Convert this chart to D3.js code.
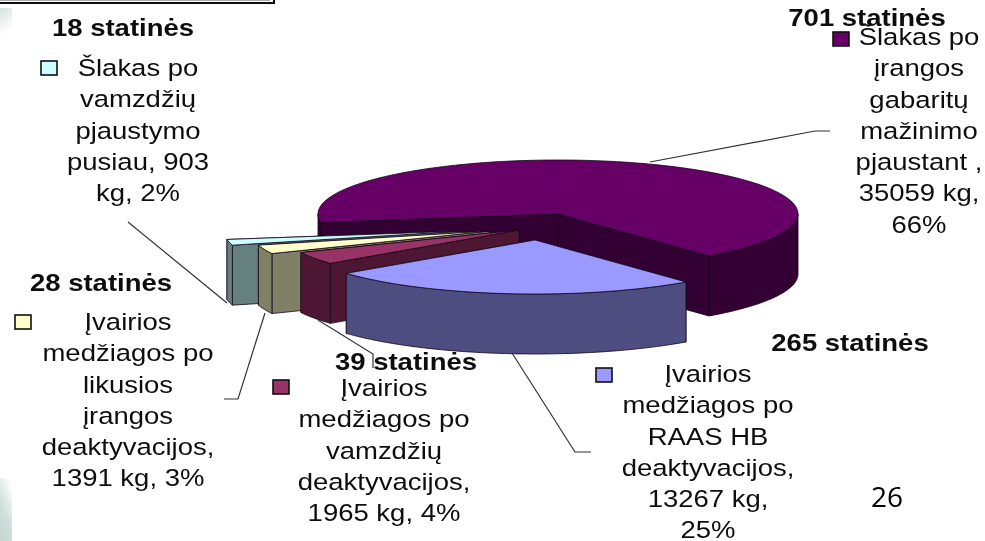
<!DOCTYPE html>
<html>
<head>
<meta charset="utf-8">
<script src="https://cdnjs.cloudflare.com/ajax/libs/d3/7.8.5/d3.min.js"></script>
<style>
  html, body { margin: 0; padding: 0; background: #fff; overflow: hidden; }
  text { font-family: "Liberation Sans", Arial, sans-serif; fill: #111; }
</style>
</head>
<body>
<div class="chart"></div>
<script>
// chart values
const sliceKg = [35059, 13267, 1965, 1391, 903];
const slicePct = [66, 25, 4, 3, 2];
const barrels = [701, 265, 39, 28, 18];
const sliceLabels = [
  ["Šlakas po", "įrangos", "gabaritų", "mažinimo", "pjaustant ,"],
  ["Įvairios", "medžiagos po", "RAAS HB", "deaktyvacijos,"],
  ["Įvairios", "medžiagos po", "vamzdžių", "deaktyvacijos,"],
  ["Įvairios", "medžiagos po", "likusios", "įrangos", "deaktyvacijos,"],
  ["Šlakas po", "vamzdžių", "pjaustymo"]
];
// how the value and percent wrap at the end of each label
const valueWrap = [
  d => [`${d.kg} kg,`, `${d.pct}%`],
  d => [`${d.kg} kg,`, `${d.pct}%`],
  d => [`${d.kg} kg, ${d.pct}%`],
  d => [`${d.kg} kg, ${d.pct}%`],
  d => [`pusiau, ${d.kg}`, `kg, ${d.pct}%`]
];

const w = 985;
const h = 541;

const topColors = ["#660066", "#9999ff", "#993366", "#ffffcc", "#ccffff"];
const sideColors = ["#330033", "#4d4d80", "#4d1933", "#808066", "#668080"];

// pie layout: ellipse centre, radii, depth, and how far each slice is pulled out
const cx = 558, cy = 214, rx = 240, ry = 54, depth = 60;
const pull = [[0, 0], [-23, 26], [-39, 16], [-68, 17], [-94, 17]];
// back to front, the small wedges run behind the big blue one
const drawOrder = [0, 4, 3, 2, 1];

// legend blocks, in slice order
const blocks = [
  { head: [867, 26], swatch: [833, 32], tx: 919, ty: 45 },
  { head: [850, 351], swatch: [596, 368], tx: 708, ty: 382 },
  { head: [406, 370], swatch: [273, 380], tx: 384, ty: 396 },
  { head: [101, 291], swatch: [15, 315], tx: 128, ty: 330 },
  { head: [123, 36], swatch: [41, 61], tx: 138, ty: 76 }
];
const leaders = [
  [[650, 162], [815, 131], [830, 131]],
  [[512, 353], [575, 452], [591, 452]],
  [[318, 320], [373, 354], [373, 368]],
  [[265, 313], [238, 399], [224, 399]],
  [[128, 222], [227, 303]]
];

const svg = d3.select(".chart").append("svg")
  .attr("width", w).attr("height", h).attr("viewBox", [0, 0, w, h]).style("display", "block");

const defs = svg.append("defs");
defs.append("filter").attr("id", "soft")
  .append("feGaussianBlur").attr("stdDeviation", 0.45);

const fade1 = defs.append("linearGradient").attr("id", "fadeTop")
  .attr("x1", 0).attr("y1", 0).attr("x2", 0.3).attr("y2", 1);
fade1.append("stop").attr("offset", 0).attr("stop-color", "#d5e3e0");
fade1.append("stop").attr("offset", 1).attr("stop-color", "#ffffff");
const fade2 = defs.append("linearGradient").attr("id", "fadeBottom")
  .attr("x1", 0.8).attr("y1", 0).attr("x2", 0.3).attr("y2", 1);
fade2.append("stop").attr("offset", 0).attr("stop-color", "#ffffff");
fade2.append("stop").attr("offset", 0.6).attr("stop-color", "#cfe0dc");
fade2.append("stop").attr("offset", 1).attr("stop-color", "#c4d9d4");

const root = svg.append("g").attr("filter", "url(#soft)");

// slide background bits at the left edge and the box cut off at the top
root.append("rect").attr("x", 0).attr("y", 8).attr("width", 12).attr("height", 27).attr("fill", "url(#fadeTop)");
root.append("rect").attr("x", 0).attr("y", 478).attr("width", 12).attr("height", 63).attr("fill", "url(#fadeBottom)");
root.append("rect").attr("x", -6).attr("y", -20).attr("width", 280).attr("height", 23)
  .attr("fill", "#fff").attr("stroke", "#111").attr("stroke-width", 2);
root.append("line").attr("x1", 0).attr("x2", 270).attr("y1", 0.5).attr("y2", 0.5).attr("stroke", "#aaa");

// unit circle to pixels
const px = d3.scaleLinear().domain([-1, 1]).range([cx - rx, cx + rx]);
const py = d3.scaleLinear().domain([-1, 1]).range([cy - ry, cy + ry]);
const onRim = a => [px(Math.sin(a)), py(-Math.cos(a))];
const apex = [px(0), py(0)];

const pie = d3.pie().value(d => d).sort(null)
  .startAngle(-99 * Math.PI / 180)
  .endAngle(261 * Math.PI / 180);
const arcs = pie(sliceKg);

const line = d3.line();
const sweep = (a0, a1) => d3.range(0, 1.0001, 1 / Math.max(2, Math.ceil((a1 - a0) / 0.03)))
  .map(t => onRim(a0 + (a1 - a0) * t));
const down = p => [p[0], p[1] + depth];

const pieG = root.append("g");

drawOrder.forEach(i => {
  const d = arcs[i];
  const g = pieG.append("g").attr("transform", `translate(${pull[i]})`)
    .attr("stroke", "#14081a").attr("stroke-width", 0.8).attr("stroke-linejoin", "round");

  // the two cut faces first, the one nearer the viewer last
  [d.startAngle, d.endAngle]
    .map(onRim)
    .sort((a, b) => a[1] - b[1])
    .forEach(p => {
      g.append("path").attr("fill", sideColors[i])
        .attr("d", line([apex, p, down(p), down(apex)]) + "Z");
    });

  // outer wall, only the part that faces the viewer
  [-2 * Math.PI, 0].forEach(shift => {
    const a0 = Math.max(d.startAngle, Math.PI / 2 + shift);
    const a1 = Math.min(d.endAngle, 3 * Math.PI / 2 + shift);
    if (a1 <= a0) return;
    const upper = sweep(a0, a1);
    const lower = upper.map(down).reverse();
    g.append("path").attr("fill", sideColors[i])
      .attr("d", line(upper.concat(lower)) + "Z");
  });

  g.append("path").attr("fill", topColors[i])
    .attr("d", line([apex].concat(sweep(d.startAngle, d.endAngle))) + "Z");
});

// leader lines
root.append("g").selectAll("path").data(leaders).join("path")
  .attr("d", d => line(d))
  .attr("fill", "none").attr("stroke", "#333").attr("stroke-width", 1.2);

// legend text, the picture is stretched sideways so the text is too
const lineH = 31.3;
const stretch = 1.17;
const table = sliceKg.map((kg, i) => ({
  kg, pct: slicePct[i], barrels: barrels[i],
  lines: sliceLabels[i].concat(valueWrap[i]({ kg, pct: slicePct[i] })),
  block: blocks[i], color: topColors[i]
}));

const legend = root.append("g").selectAll("g").data(table).join("g");

legend.append("rect")
  .attr("x", d => d.block.swatch[0]).attr("y", d => d.block.swatch[1])
  .attr("width", 16).attr("height", 14)
  .attr("fill", d => d.color).attr("stroke", "#111").attr("stroke-width", 1.6);

legend.append("text")
  .attr("transform", d => `translate(${d.block.tx},${d.block.ty}) scale(${stretch},1)`)
  .attr("text-anchor", "middle").style("font-size", "23.5px")
  .selectAll("tspan").data(d => d.lines.map((t, k) => ({ t, k }))).join("tspan")
  .attr("x", 0).attr("dy", d => d.k ? lineH : 0)
  .text(d => d.t);

legend.append("text")
  .attr("transform", d => `translate(${d.block.head}) scale(${stretch},1)`)
  .attr("text-anchor", "middle").style("font-size", "23.5px").style("font-weight", "bold")
  .text(d => `${d.barrels} statinės`);

// slide number
root.append("text").attr("x", 887).attr("y", 507).attr("text-anchor", "middle")
  .style("font-family", "'Open Sans'").style("font-size", "28px").style("fill", "#000")
  .text("26");
</script>
</body>
</html>
